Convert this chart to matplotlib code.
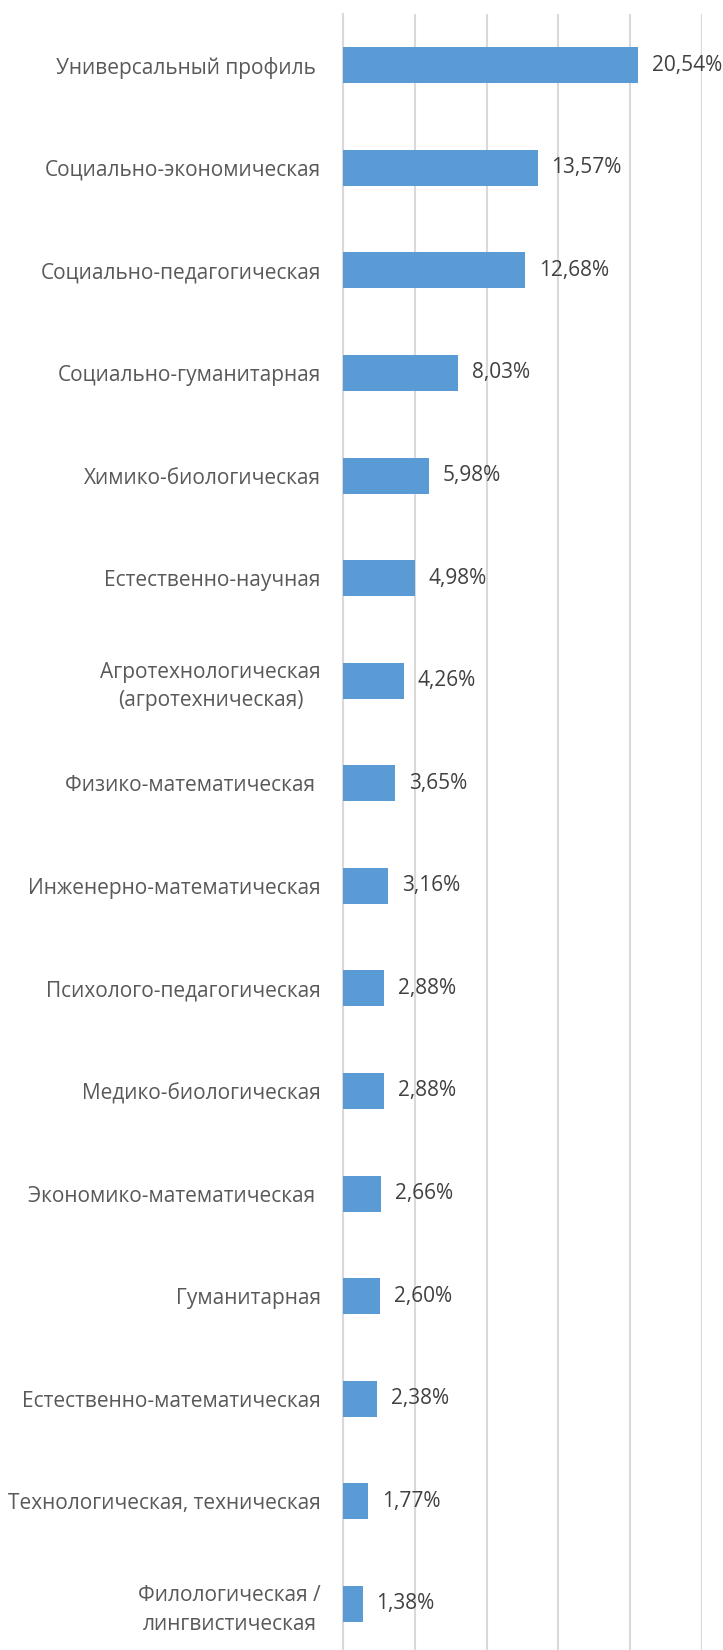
import matplotlib
matplotlib.use("Agg")
import matplotlib.pyplot as plt

# profile shares, top to bottom
categories = [
    "Универсальный профиль ",
    "Социально-экономическая",
    "Социально-педагогическая",
    "Социально-гуманитарная",
    "Химико-биологическая",
    "Естественно-научная",
    "Агротехнологическая\n(агротехническая)",
    "Физико-математическая ",
    "Инженерно-математическая",
    "Психолого-педагогическая",
    "Медико-биологическая",
    "Экономико-математическая ",
    "Гуманитарная",
    "Естественно-математическая",
    "Технологическая, техническая",
    "Филологическая /\nлингвистическая",
]
shares = [20.54, 13.57, 12.68, 8.03, 5.98, 4.98, 4.26, 3.65, 3.16,
          2.88, 2.88, 2.66, 2.60, 2.38, 1.77, 1.38]
value_labels = ["20,54%", "13,57%", "12,68%", "8,03%", "5,98%", "4,98%", "4,26%",
                "3,65%", "3,16%", "2,88%", "2,88%", "2,66%", "2,60%", "2,38%",
                "1,77%", "1,38%"]

plt.rcParams['font.family'] = ['Open Sans', 'DejaVu Sans']

fig = plt.figure(figsize=(7.23, 16.5), dpi=100)
ax = fig.add_axes([343 / 723, 0.0, 359 / 723, (1650 - 14) / 1650])

pos = list(range(len(categories)))
ax.barh(pos, shares, height=0.35, color='#5B9BD5', zorder=3)

for y, v, lab in zip(pos, shares, value_labels):
    ax.text(v + 0.95, y, lab, va='center', ha='left', fontsize=15,
            color='#404040', clip_on=False)

ax.set_xlim(0, 25)
ax.set_ylim(15.45, -0.5)
ax.set_xticks([0, 5, 10, 15, 20, 25])
ax.set_xticklabels([])
ax.tick_params(axis='x', length=0)
ax.grid(axis='x', color='#D9D9D9', linewidth=1.5, zorder=0)

ax.set_yticks(pos)
ax.set_yticklabels(categories, fontsize=15, color='#595959',
                   multialignment='center', linespacing=1.45)
ax.tick_params(axis='y', length=0, pad=16)

for side in ['top', 'right', 'bottom']:
    ax.spines[side].set_visible(False)
ax.spines['left'].set_color('#D9D9D9')
ax.spines['left'].set_linewidth(1.5)

fig.savefig('out.png', dpi=100)
